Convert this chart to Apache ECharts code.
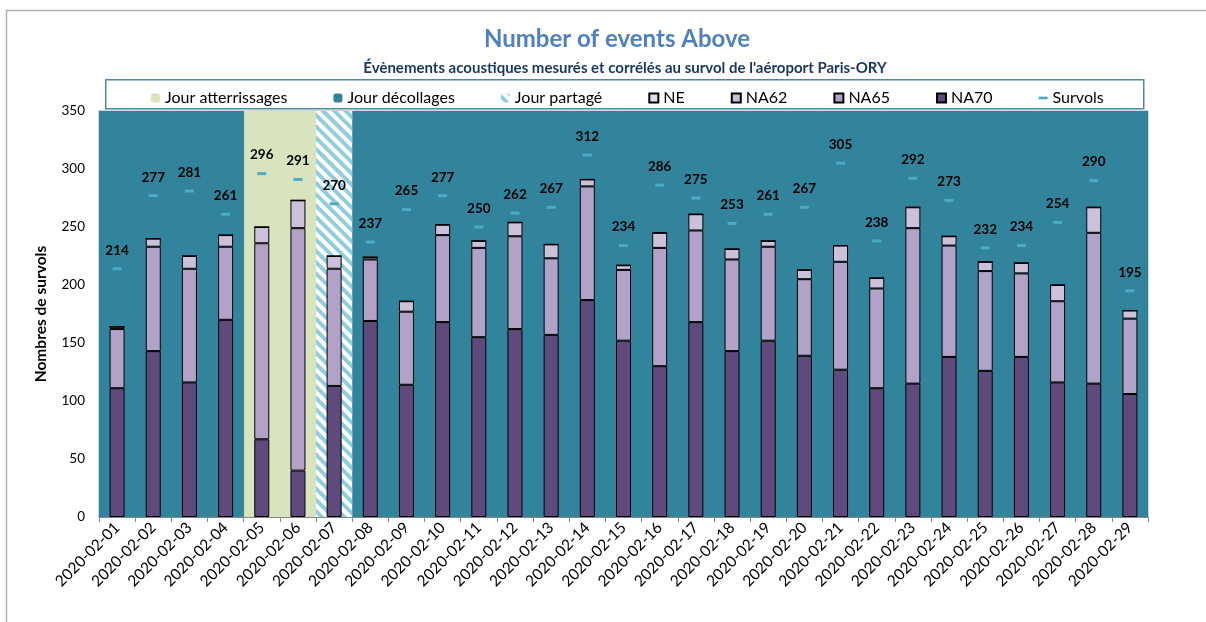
<!DOCTYPE html>
<html>
<head>
<meta charset="utf-8">
<title>Number of events Above</title>
<script src="https://cdn.jsdelivr.net/npm/echarts@6/dist/echarts.min.js"></script>
<style>
  html, body { margin: 0; padding: 0; background: #ffffff; }
  #chart { width: 1206px; height: 622px; }
</style>
</head>
<body>
<div id="chart"></div>
<script>
// Days of February 2020
const categories = [
  '2020-02-01', '2020-02-02', '2020-02-03', '2020-02-04', '2020-02-05', '2020-02-06', '2020-02-07',
  '2020-02-08', '2020-02-09', '2020-02-10', '2020-02-11', '2020-02-12', '2020-02-13', '2020-02-14',
  '2020-02-15', '2020-02-16', '2020-02-17', '2020-02-18', '2020-02-19', '2020-02-20', '2020-02-21',
  '2020-02-22', '2020-02-23', '2020-02-24', '2020-02-25', '2020-02-26', '2020-02-27', '2020-02-28',
  '2020-02-29'
];

// Runway configuration of the day: A = atterrissages, D = décollages, P = partagé
const dayType = [
  'D', 'D', 'D', 'D', 'A', 'A', 'P',
  'D', 'D', 'D', 'D', 'D', 'D', 'D',
  'D', 'D', 'D', 'D', 'D', 'D', 'D',
  'D', 'D', 'D', 'D', 'D', 'D', 'D',
  'D'
];

// Stacked event counts (bottom to top)
const na70 = [111, 143, 116, 170, 67, 40, 113, 169, 114, 168, 155, 162, 157, 187, 152, 130, 168, 143, 152, 139, 127, 111, 115, 138, 126, 138, 116, 115, 106];
const na65 = [51, 90, 98, 63, 169, 209, 101, 53, 63, 75, 77, 80, 66, 98, 61, 102, 79, 79, 81, 66, 93, 86, 134, 96, 86, 72, 70, 130, 65];
const na62 = [2, 7, 11, 10, 14, 24, 11, 2, 9, 9, 6, 12, 12, 6, 4, 13, 14, 9, 5, 8, 14, 9, 18, 8, 8, 9, 14, 22, 7];
const ne   = [0, 0, 0, 0, 0, 0, 0, 0, 0, 0, 0, 0, 0, 0, 0, 0, 0, 0, 0, 0, 0, 0, 0, 0, 0, 0, 0, 0, 0];

// Number of overflights per day
const survols = [214, 277, 281, 261, 296, 291, 270, 237, 265, 277, 250, 262, 267, 312, 234, 286, 275, 253, 261, 267, 305, 238, 292, 273, 232, 234, 254, 290, 195];

// Value axis ticks
const yTicks = [0, 50, 100, 150, 200, 250, 300, 350];

const FONT = 'Lato, "Open Sans", sans-serif';
const yMin = yTicks[0];
const yMax = yTicks[yTicks.length - 1];
const yStep = yTicks[1] - yTicks[0];

const COLOR_LANDING = '#d7e4bd';
const COLOR_TAKEOFF = '#31849b';
const COLOR_SHARED = '#92cddc';

// Day-type band: full-height bar on the days of the given type
function band(type) {
  return dayType.map(t => (t === type ? yMax : '-'));
}

const chart = echarts.init(document.getElementById('chart'), null, { renderer: 'canvas' });

const barBorder = { borderColor: '#000000', borderWidth: 1 };

const option = {
  backgroundColor: '#ffffff',
  animation: false,
  textStyle: { fontFamily: FONT },
  title: [
    {
      text: 'Number of events Above',
      left: 612,
      textAlign: 'center',
      top: 22,
      textStyle: { fontFamily: FONT, fontSize: 24, fontWeight: 'bold', color: '#4f81bd' }
    },
    {
      text: 'Évènements acoustiques mesurés et corrélés au survol de l\'aéroport Paris-ORY',
      left: 620,
      textAlign: 'center',
      top: 56,
      textStyle: { fontFamily: FONT, fontSize: 15, fontWeight: 'bold', color: '#17375e' }
    }
  ],
  graphic: [
    {
      // page frame: top and left edges
      type: 'polyline',
      z: -10,
      shape: { points: [[6.5, 622], [6.5, 10.5], [1206, 10.5]] },
      style: { fill: 'none', stroke: '#b0b0b0', lineWidth: 1.5 }
    },
    {
      type: 'rect',
      left: 105, top: 79,
      z: -5,
      shape: { width: 1038, height: 29 },
      style: { fill: '#ffffff', stroke: '#4a8ba0', lineWidth: 1.5 }
    }
  ],
  legend: {
    top: 85,
    left: 146,
    itemGap: 46,
    itemWidth: 9,
    itemHeight: 9,
    textStyle: { fontFamily: FONT, fontSize: 16, color: '#000000' },
    data: [
      'Jour atterrissages',
      'Jour décollages',
      'Jour partagé',
      { name: 'NE', icon: 'rect' },
      { name: 'NA62', icon: 'rect' },
      { name: 'NA65', icon: 'rect' },
      { name: 'NA70', icon: 'rect' },
      { name: 'Survols', icon: 'path://M0 0h10v3H0z' }
    ]
  },
  grid: {
    left: 99, right: 58, top: 111, bottom: 105,
    containLabel: false,
    show: true,
    borderColor: '#a6a6a6',
    borderWidth: 1,
    backgroundColor: COLOR_TAKEOFF
  },
  xAxis: [
    {
      type: 'category',
      data: categories,
      axisLine: { show: true, lineStyle: { color: '#868686' } },
      axisTick: { show: true, length: 5, lineStyle: { color: '#868686' } },
      axisLabel: { rotate: 45, fontSize: 15.5, color: '#000000', fontFamily: FONT, margin: 8 },
      splitLine: { show: false },
      z: 5
    },
    {
      type: 'category',
      data: categories,
      show: false,
      splitLine: { show: false }
    }
  ],
  yAxis: {
    type: 'value',
    min: yMin, max: yMax, interval: yStep,
    name: 'Nombres de survols',
    nameLocation: 'middle',
    nameGap: 50,
    nameTextStyle: { fontFamily: FONT, fontSize: 15.5, fontWeight: 'bold', color: '#000000' },
    axisLine: { show: true, lineStyle: { color: '#868686' } },
    axisTick: { show: false },
    splitLine: { show: false },
    axisLabel: { fontSize: 13.5, color: '#000000', fontFamily: FONT, margin: 14 }
  },
  series: [
    {
      name: 'Jour atterrissages',
      type: 'bar', xAxisIndex: 1,
      data: band('A'),
      barWidth: '101%', barGap: '-100%',
      silent: true, z: 0,
      itemStyle: { color: COLOR_LANDING }
    },
    {
      name: 'Jour décollages',
      type: 'bar', xAxisIndex: 1,
      data: band('D'),
      barWidth: '101%', barGap: '-100%',
      silent: true, z: 0,
      itemStyle: { color: COLOR_TAKEOFF }
    },
    {
      name: 'Jour partagé',
      type: 'bar', xAxisIndex: 1,
      data: band('P'),
      barWidth: '100%', barGap: '-100%',
      silent: true, z: 0,
      itemStyle: {
        color: '#ffffff',
        decal: {
          symbol: 'rect',
          color: COLOR_SHARED,
          dashArrayX: [1, 0],
          dashArrayY: [3.2, 3.2],
          rotation: Math.PI / 4
        }
      }
    },
    {
      name: 'NA70', type: 'bar', stack: 'events', data: na70, barWidth: 15,
      itemStyle: Object.assign({ color: '#604a7b' }, barBorder)
    },
    {
      name: 'NA65', type: 'bar', stack: 'events', data: na65, barWidth: 15,
      itemStyle: Object.assign({ color: '#b3a2c7' }, barBorder)
    },
    {
      name: 'NA62', type: 'bar', stack: 'events', data: na62, barWidth: 15,
      itemStyle: Object.assign({ color: '#ccc0da' }, barBorder)
    },
    {
      name: 'NE', type: 'bar', stack: 'events', data: ne, barWidth: 15,
      itemStyle: Object.assign({ color: '#e4dfec' }, barBorder)
    },
    {
      name: 'Survols',
      type: 'line',
      data: survols,
      z: 6,
      lineStyle: { width: 0, opacity: 0 },
      symbol: 'rect',
      symbolSize: [9, 3],
      itemStyle: { color: '#4bacc6' },
      label: {
        show: true,
        position: 'top',
        distance: 10,
        fontFamily: FONT,
        fontSize: 13.5,
        fontWeight: 'bold',
        color: '#000000'
      }
    }
  ]
};

chart.setOption(option);
</script>
</body>
</html>
